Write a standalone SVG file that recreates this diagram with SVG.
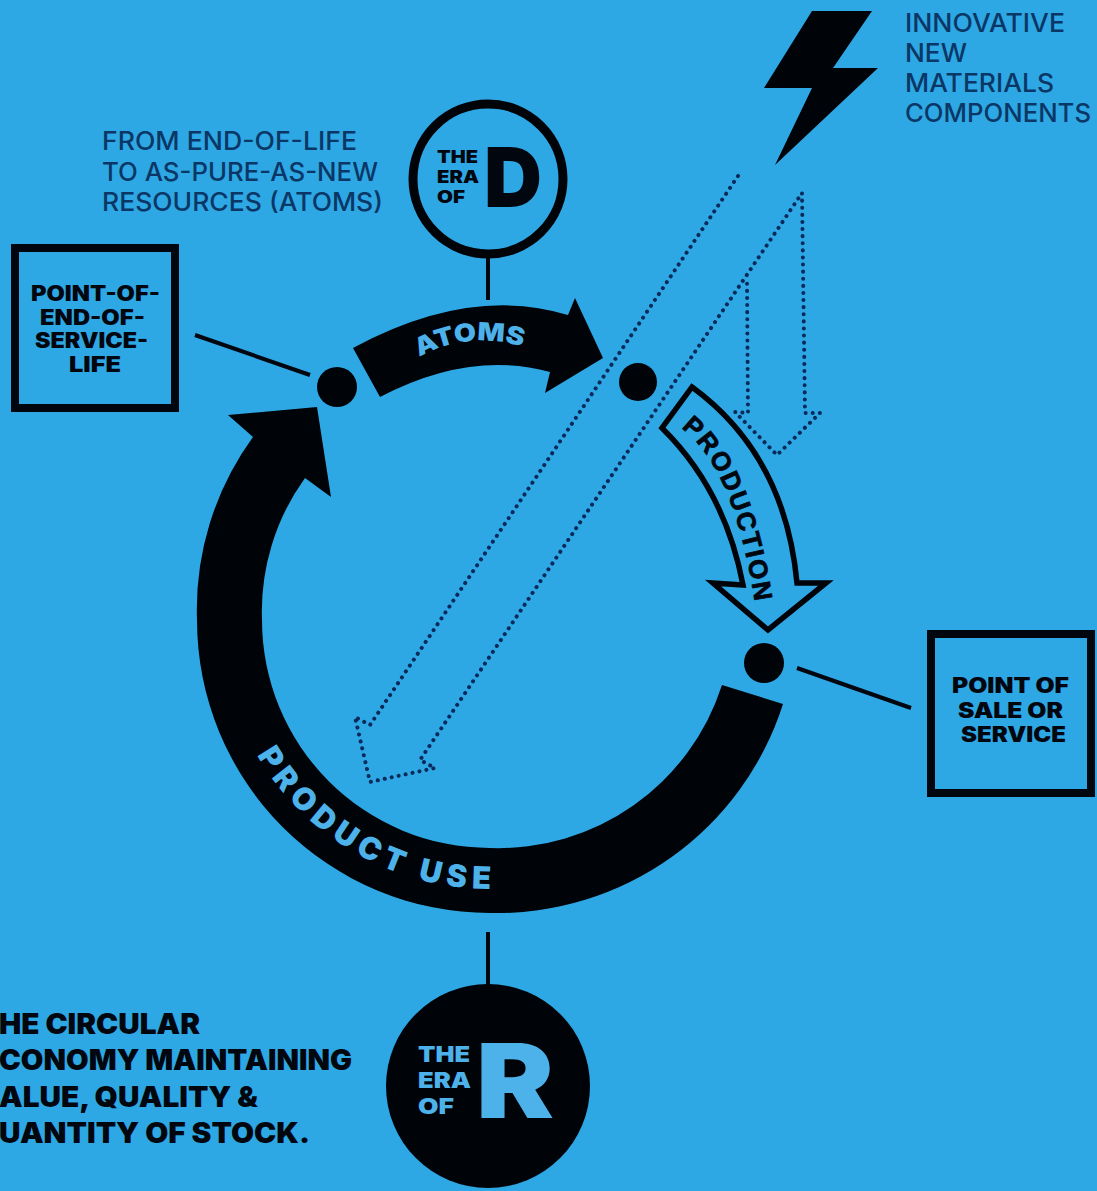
<svg xmlns="http://www.w3.org/2000/svg" width="1097" height="1191" viewBox="0 0 1097 1191">
<style>
text{font-family:Inter,"Liberation Sans",sans-serif}
.hv{font-weight:900;fill:#01060f}
.lt{font-weight:500;fill:#0a3766}
.rev{font-weight:900;fill:#4db2ea}
.box{fill:none;stroke:#01060f;stroke-width:8}
.ln{stroke:#01060f;stroke-width:4;fill:none}
.dot{fill:none;stroke:#0a2a5c;stroke-width:4;stroke-linecap:round;stroke-dasharray:0.1 7}
</style>
<rect width="1097" height="1191" fill="#2ea8e4"/>
<g id="connectors">
<line class="ln" x1="488" y1="258" x2="488" y2="300"/>
<line class="ln" x1="488" y1="932" x2="488" y2="986"/>
<line class="ln" x1="195" y1="335" x2="310" y2="375"/>
<line class="ln" x1="797" y1="668" x2="911" y2="708"/>
</g>
<g id="new-materials-bolt">
<polygon points="812,11 872,11 833,68 878,68 775,165 812,88 764,88" fill="#000308"/>
<text class="lt" font-size="25"><tspan x="905" y="32" textLength="160" lengthAdjust="spacingAndGlyphs">INNOVATIVE</tspan><tspan x="905" y="62" textLength="62" lengthAdjust="spacingAndGlyphs">NEW</tspan><tspan x="905" y="92" textLength="149" lengthAdjust="spacingAndGlyphs">MATERIALS</tspan><tspan x="905" y="122" textLength="186" lengthAdjust="spacingAndGlyphs">COMPONENTS</tspan></text>
</g>
<g id="dotted-arrows">
<path class="dot" d="M738,176 L370,725 L355,717 L370,782 L435,768 L420,760 L802,193 L805,413 L820,413 L777,455 L735,412 L748,413 L747,283"/>
</g>
<g id="era-of-d">
<circle cx="488" cy="179" r="75" fill="none" stroke="#000308" stroke-width="9"/>
<text class="hv" font-size="17"><tspan x="437" y="163" textLength="41" lengthAdjust="spacingAndGlyphs">THE</tspan><tspan x="437" y="183" textLength="42" lengthAdjust="spacingAndGlyphs">ERA</tspan><tspan x="437" y="203" textLength="28" lengthAdjust="spacingAndGlyphs">OF</tspan></text>
<text class="hv" font-size="83" x="484" y="207" textLength="58" lengthAdjust="spacingAndGlyphs">D</text>
<text class="lt" font-size="25"><tspan x="102" y="150" textLength="255" lengthAdjust="spacingAndGlyphs">FROM END-OF-LIFE</tspan><tspan x="102" y="181" textLength="276" lengthAdjust="spacingAndGlyphs">TO AS-PURE-AS-NEW</tspan><tspan x="102" y="211" textLength="281" lengthAdjust="spacingAndGlyphs">RESOURCES (ATOMS)</tspan></text>
</g>
<g id="point-of-end-of-service-life">
<rect class="box" x="15" y="248" width="160" height="160"/>
<text class="hv" font-size="21"><tspan x="31" y="301" textLength="129" lengthAdjust="spacingAndGlyphs">POINT-OF-</tspan><tspan x="40" y="325" textLength="105" lengthAdjust="spacingAndGlyphs">END-OF-</tspan><tspan x="35" y="348" textLength="113" lengthAdjust="spacingAndGlyphs">SERVICE-</tspan><tspan x="69" y="372" textLength="52" lengthAdjust="spacingAndGlyphs">LIFE</tspan></text>
</g>
<g id="point-of-sale">
<rect class="box" x="931" y="634" width="160" height="159"/>
<text class="hv" font-size="21"><tspan x="952" y="693" textLength="117" lengthAdjust="spacingAndGlyphs">POINT OF</tspan><tspan x="958" y="718" textLength="105" lengthAdjust="spacingAndGlyphs">SALE OR</tspan><tspan x="961" y="742" textLength="105" lengthAdjust="spacingAndGlyphs">SERVICE</tspan></text>
</g>
<g id="dots" fill="#000308">
<circle cx="337" cy="387" r="20"/>
<circle cx="638" cy="382" r="19"/>
<circle cx="764" cy="663" r="20"/>
</g>
<g id="atoms">
<path fill="#000308" d="M353,348 Q470,285 568,315 L575,298 L603,358 L545,393 L550,372 Q470,350 380,397 Z"/>
<path id="pa" d="M419,357 Q470,329 530,349" fill="none"/>
<text class="rev" font-size="25" textLength="107" lengthAdjust="spacingAndGlyphs"><textPath href="#pa">ATOMS</textPath></text>
</g>
<g id="production">
<path fill="none" stroke="#000308" stroke-width="5.5" stroke-linejoin="miter" d="M692,387 Q785,455 797,583 L826,583 L768,630 L713,583 L743,585 Q725,490 662,428 Z"/>
<path id="pp" d="M681,428 Q733,466 754,597 L757,640" fill="none"/>
<text font-size="26" style="font-family:'Liberation Sans',Arial,sans-serif;font-weight:700;fill:#01060f;stroke:#01060f;stroke-width:.8" letter-spacing="2"><textPath href="#pp">PRODUCTION</textPath></text>
</g>
<g id="product-use">
<path fill="#000308" d="M783,704 A300,300 0 0 1 490,913 A293,293 0 0 1 197,620 A293,293 0 0 1 253,437 L228,415 L317,407 L331,497 L305,478 A228,228 0 0 0 262,620 A228,228 0 0 0 490,848 A235,235 0 0 0 722,685 Z"/>
<path id="pu" d="M257,755 A269,269 0 0 0 494,889" fill="none"/>
<text class="rev" font-size="31" textLength="282" lengthAdjust="spacing"><textPath href="#pu">PRODUCT USE</textPath></text>
</g>
<g id="era-of-r">
<circle cx="488" cy="1086" r="102" fill="#000308"/>
<text class="rev" font-size="21.5"><tspan x="418" y="1062" textLength="52" lengthAdjust="spacingAndGlyphs">THE</tspan><tspan x="418" y="1088" textLength="53" lengthAdjust="spacingAndGlyphs">ERA</tspan><tspan x="418" y="1114" textLength="36" lengthAdjust="spacingAndGlyphs">OF</tspan></text>
<text class="rev" font-size="103" x="476" y="1118" textLength="78" lengthAdjust="spacingAndGlyphs">R</text>
</g>
<g id="caption">
<text class="hv" font-size="28"><tspan x="-1" y="1034" textLength="201" lengthAdjust="spacingAndGlyphs">HE CIRCULAR</tspan><tspan x="-1" y="1070" textLength="353" lengthAdjust="spacingAndGlyphs">CONOMY MAINTAINING</tspan><tspan x="-1" y="1107" textLength="259" lengthAdjust="spacingAndGlyphs">ALUE, QUALITY &amp;</tspan><tspan x="-1" y="1143" textLength="311" lengthAdjust="spacingAndGlyphs">UANTITY OF STOCK.</tspan></text>
</g>
</svg>
